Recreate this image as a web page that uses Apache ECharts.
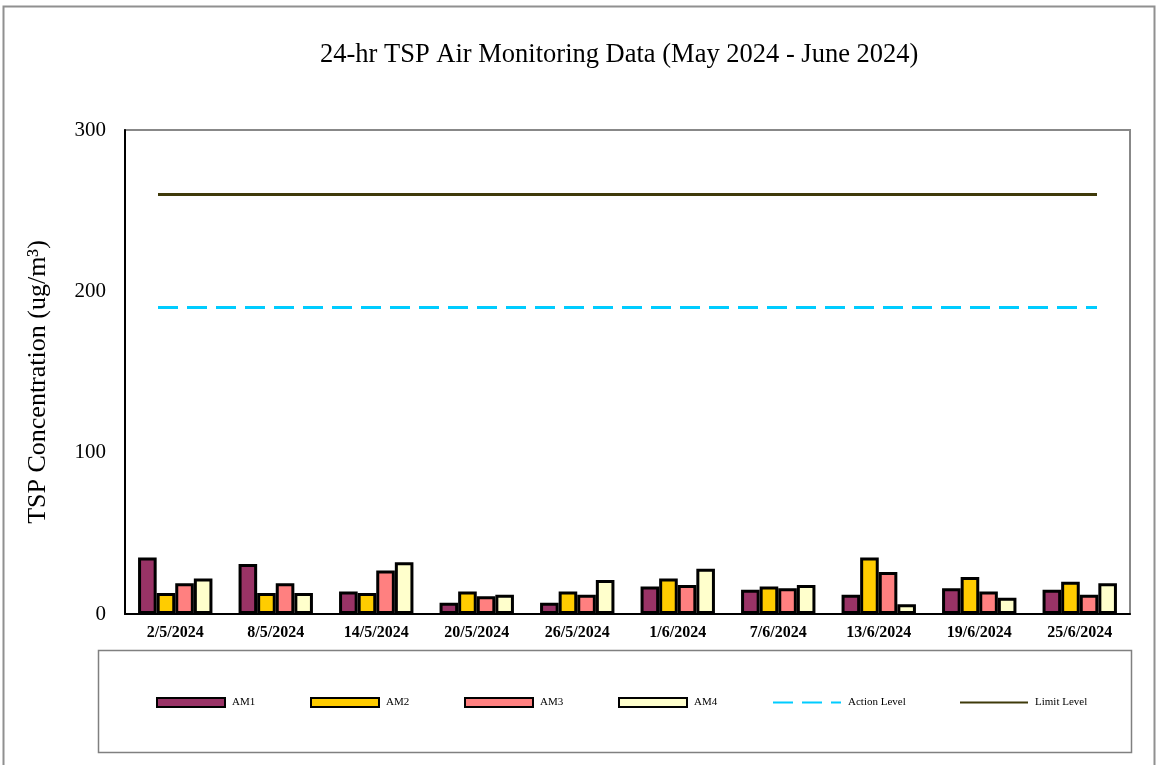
<!DOCTYPE html>
<html><head><meta charset="utf-8">
<script src="https://cdn.jsdelivr.net/npm/echarts@6/dist/echarts.min.js"></script>
<style>html,body{margin:0;padding:0;background:#fff}#c{width:1156px;height:765px}</style>
</head><body><div id="c"></div>
<script>
const categories = ['2/5/2024','8/5/2024','14/5/2024','20/5/2024','26/5/2024','1/6/2024','7/6/2024','13/6/2024','19/6/2024','25/6/2024'];
const am1 = [35,31,14,7,7,17,15,12,16,15];
const am2 = [13,13,13,14,14,22,17,35,23,20];
const am3 = [19,19,27,11,12,18,16,26,14,12];
const am4 = [22,13,32,12,21,28,18,6,10,19];
const actionLevel = [190,190,190,190,190,190,190,190,190,190];
const limitLevel = [260,260,260,260,260,260,260,260,260,260];
const yTicks = {min:0, max:300, interval:100};

const serif = '"Liberation Serif","DejaVu Serif",serif';
const chart = echarts.init(document.getElementById('c'));
const barStyle = (c) => ({color:c, borderColor:'#000', borderWidth:3});
const legendLeft = [156,310,464,618,772,959];
const names = ['AM1','AM2','AM3','AM4','Action Level','Limit Level'];
const legends = names.map((n,i)=>{
  const l = {
    data: i < 4 ? [{name:n, icon:'rect'}] : [n],
    left:legendLeft[i], top:697, padding:0, itemWidth:68, itemHeight:9, itemGap:0,
    textStyle:{fontFamily:serif, fontSize:11, color:'#000', padding:[0,0,0,2]}, selectedMode:false
  };
  if (i < 4) l.itemStyle = {borderWidth:2, borderColor:'#000'};
  else l.itemStyle = {opacity:0};
  return l;
});
chart.setOption({
  backgroundColor:'#fff',
  animation:false,
  title:{text:'24-hr TSP Air Monitoring Data (May 2024 - June 2024)', left:315, top:37,
    textStyle:{fontFamily:serif, fontSize:26.5, fontWeight:'normal', color:'#000'}},
  graphic:[
    {type:'rect', shape:{x:3.5,y:6.5,width:1151,height:775}, style:{fill:'none', stroke:'#909090', lineWidth:2}, silent:true},
    {type:'rect', shape:{x:98.5,y:650.5,width:1033,height:102}, style:{fill:'none', stroke:'#808080', lineWidth:1.5}, silent:true},
    {type:'text', x:38, y:382, rotation:Math.PI/2, silent:true,
      style:{text:'TSP Concentration (ug/m\u00b3)', fontFamily:serif, fontSize:26, fill:'#000', align:'center', verticalAlign:'middle'}}
  ],
  legend: legends,
  grid:[
    {left:125, right:26, top:130, bottom:151, show:true, borderColor:'#888', borderWidth:2, backgroundColor:'#fff'},
    {left:158, right:59, top:130, bottom:151, show:false}
  ],
  xAxis:[
    {type:'category', data:categories, gridIndex:0,
      axisLine:{lineStyle:{color:'#000', width:2}},
      axisTick:{inside:true, length:5, lineStyle:{color:'#000'}},
      axisLabel:{fontFamily:serif, fontSize:16, fontWeight:'bold', color:'#000', margin:11}},
    {type:'category', data:categories, gridIndex:1, boundaryGap:false, show:false}
  ],
  yAxis:[
    {type:'value', gridIndex:0, min:yTicks.min, max:yTicks.max, interval:yTicks.interval,
      axisLine:{show:true, lineStyle:{color:'#000', width:2}},
      axisTick:{show:false},
      splitLine:{show:false},
      axisLabel:{fontFamily:serif, fontSize:21, color:'#000', margin:19}},
    {type:'value', gridIndex:1, min:yTicks.min, max:yTicks.max, interval:yTicks.interval, show:false}
  ],
  series:[
    {name:'AM1', type:'bar', data:am1, itemStyle:barStyle('#993366'), barGap:'0%', barCategoryGap:'26%'},
    {name:'AM2', type:'bar', data:am2, itemStyle:barStyle('#FFCC00')},
    {name:'AM3', type:'bar', data:am3, itemStyle:barStyle('#FF8080')},
    {name:'AM4', type:'bar', data:am4, itemStyle:barStyle('#FFFFCC')},
    {name:'Action Level', type:'line', xAxisIndex:1, yAxisIndex:1, data:actionLevel, symbol:'none',
      itemStyle:{color:'#00CCFF'}, lineStyle:{color:'#00CCFF', width:3, type:[20,9]}},
    {name:'Limit Level', type:'line', xAxisIndex:1, yAxisIndex:1, data:limitLevel, symbol:'none',
      itemStyle:{color:'#3F3A0A'}, lineStyle:{color:'#3F3A0A', width:3}}
  ]
});
</script></body></html>
